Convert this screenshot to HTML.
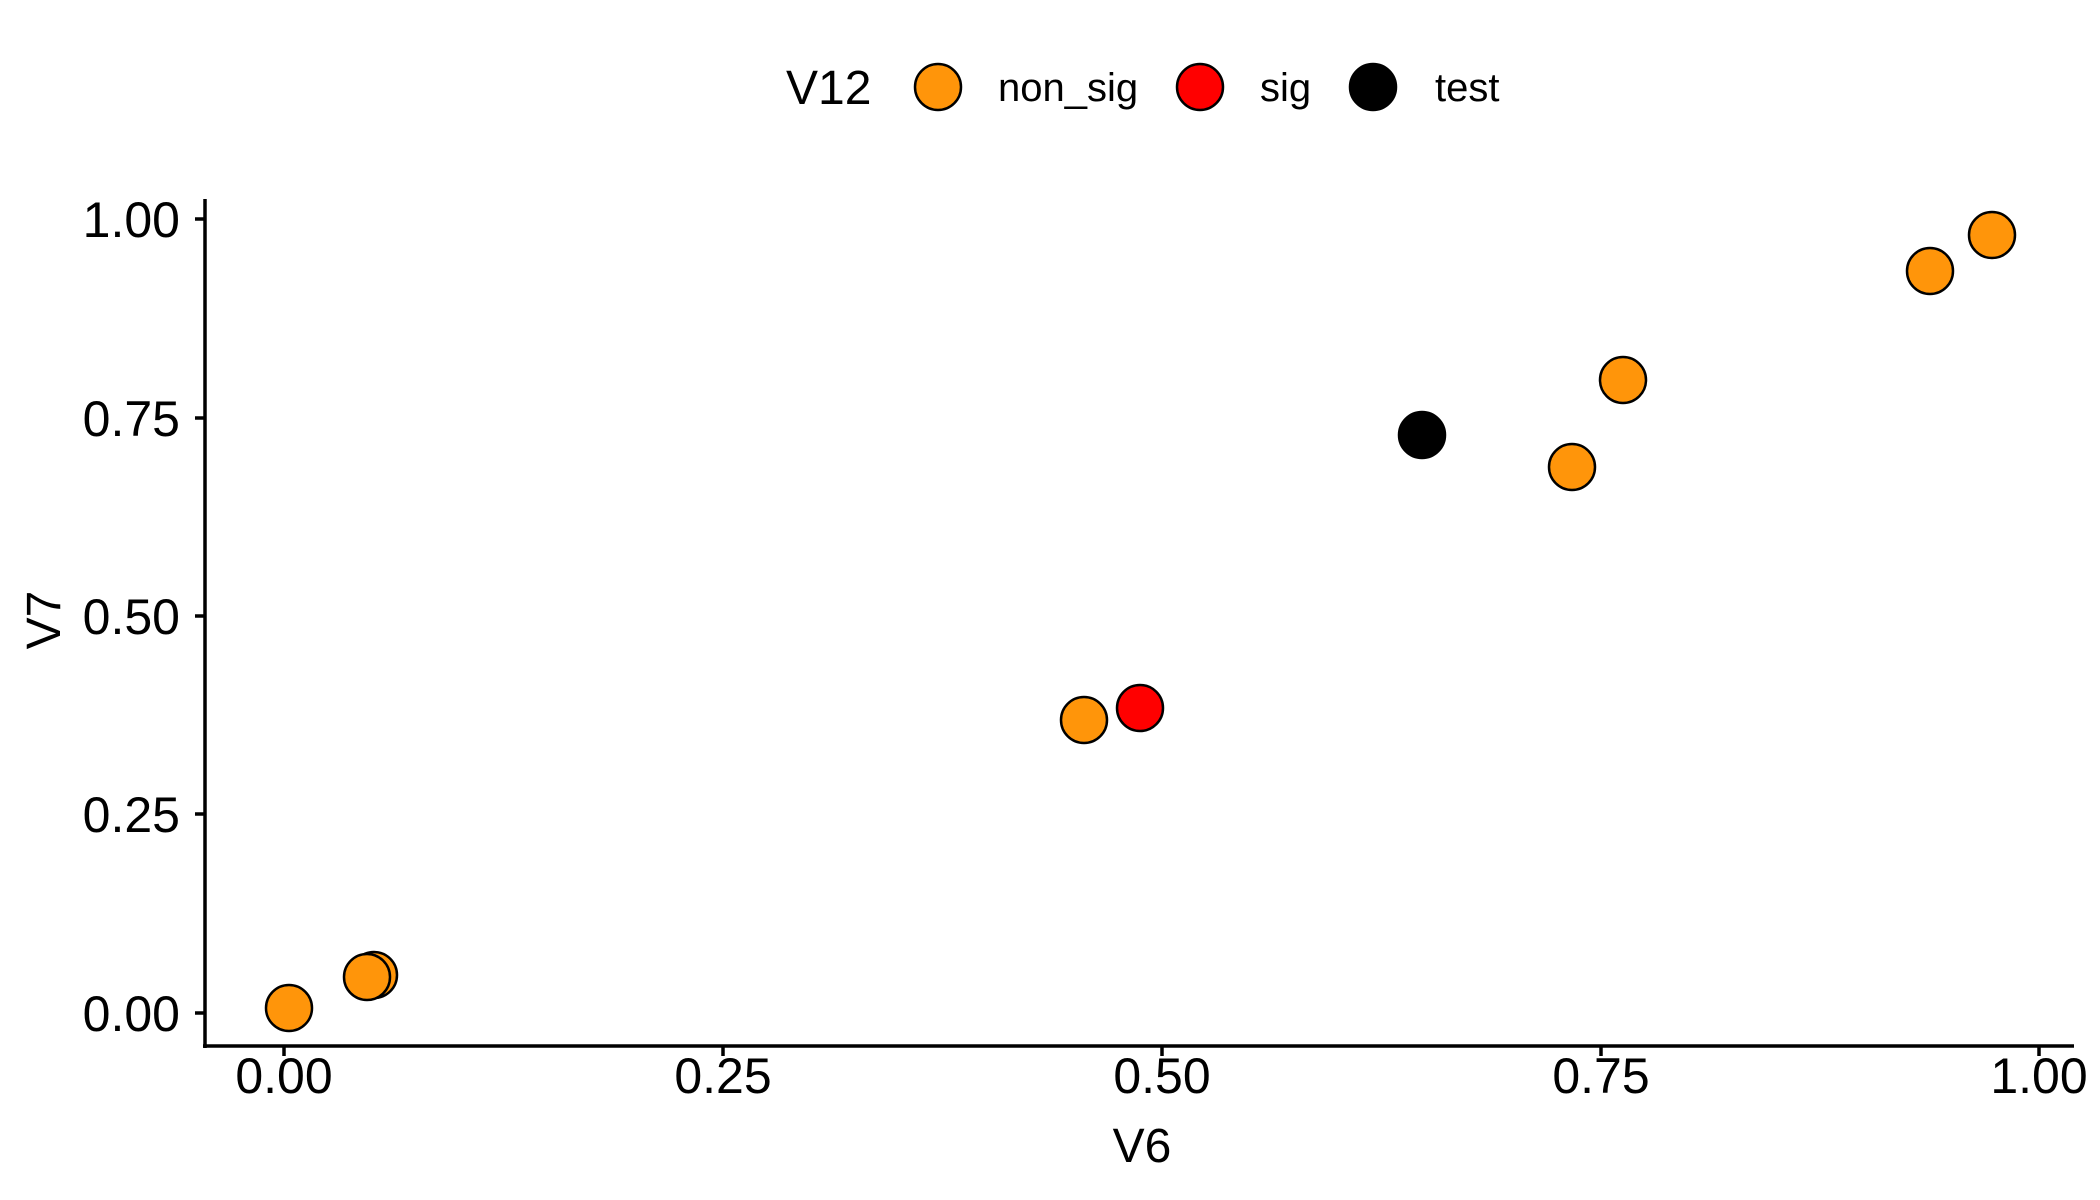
<!DOCTYPE html>
<html><head><meta charset="utf-8"><style>html,body{margin:0;padding:0;background:#fff}svg{display:block}</style></head>
<body>
<svg width="2100" height="1200" viewBox="0 0 2100 1200" xmlns="http://www.w3.org/2000/svg" font-family="Liberation Sans, Arial, sans-serif">
<rect width="2100" height="1200" fill="#fff"/>
<text x="786" y="104" font-size="48">V12</text>
<circle cx="938" cy="87" r="23" fill="#FF950A" stroke="#000" stroke-width="2.5"/>
<text x="998" y="101" font-size="40">non_sig</text>
<circle cx="1200" cy="87" r="23" fill="#FF0000" stroke="#000" stroke-width="2.5"/>
<text x="1260" y="101" font-size="40">sig</text>
<circle cx="1373" cy="87" r="23" fill="#000" stroke="#000" stroke-width="2.5"/>
<text x="1435" y="101" font-size="40">test</text>
<g stroke="#000" stroke-width="3.5" fill="none">
<line x1="205" y1="199" x2="205" y2="1048"/>
<line x1="203" y1="1046" x2="2074" y2="1046"/>
<line x1="195" y1="219" x2="205" y2="219"/>
<line x1="195" y1="418" x2="205" y2="418"/>
<line x1="195" y1="616" x2="205" y2="616"/>
<line x1="195" y1="814" x2="205" y2="814"/>
<line x1="195" y1="1013" x2="205" y2="1013"/>
<line x1="284" y1="1046" x2="284" y2="1056"/>
<line x1="723" y1="1046" x2="723" y2="1056"/>
<line x1="1162" y1="1046" x2="1162" y2="1056"/>
<line x1="1601" y1="1046" x2="1601" y2="1056"/>
<line x1="2039" y1="1046" x2="2039" y2="1056"/>
</g>
<g font-size="50" text-anchor="end">
<text x="180" y="237">1.00</text>
<text x="180" y="436">0.75</text>
<text x="180" y="634">0.50</text>
<text x="180" y="832">0.25</text>
<text x="180" y="1031">0.00</text>
</g>
<g font-size="50" text-anchor="middle">
<text x="284" y="1093">0.00</text>
<text x="723" y="1093">0.25</text>
<text x="1162" y="1093">0.50</text>
<text x="1601" y="1093">0.75</text>
<text x="2039" y="1093">1.00</text>
</g>
<text x="1142" y="1162" font-size="48" text-anchor="middle">V6</text>
<text transform="translate(60,620) rotate(-90)" font-size="48" text-anchor="middle">V7</text>
<g stroke="#000" stroke-width="2.5">
<circle cx="289" cy="1008" r="23" fill="#FF950A"/>
<circle cx="374" cy="975" r="23" fill="#FF950A"/>
<circle cx="367" cy="977" r="23" fill="#FF950A"/>
<circle cx="1084" cy="720" r="23" fill="#FF950A"/>
<circle cx="1140" cy="708" r="23" fill="#FF0000"/>
<circle cx="1422" cy="435" r="23" fill="#000"/>
<circle cx="1572" cy="467" r="23" fill="#FF950A"/>
<circle cx="1623" cy="380" r="23" fill="#FF950A"/>
<circle cx="1930" cy="271" r="23" fill="#FF950A"/>
<circle cx="1992" cy="235" r="23" fill="#FF950A"/>
</g>
</svg>
</body></html>
